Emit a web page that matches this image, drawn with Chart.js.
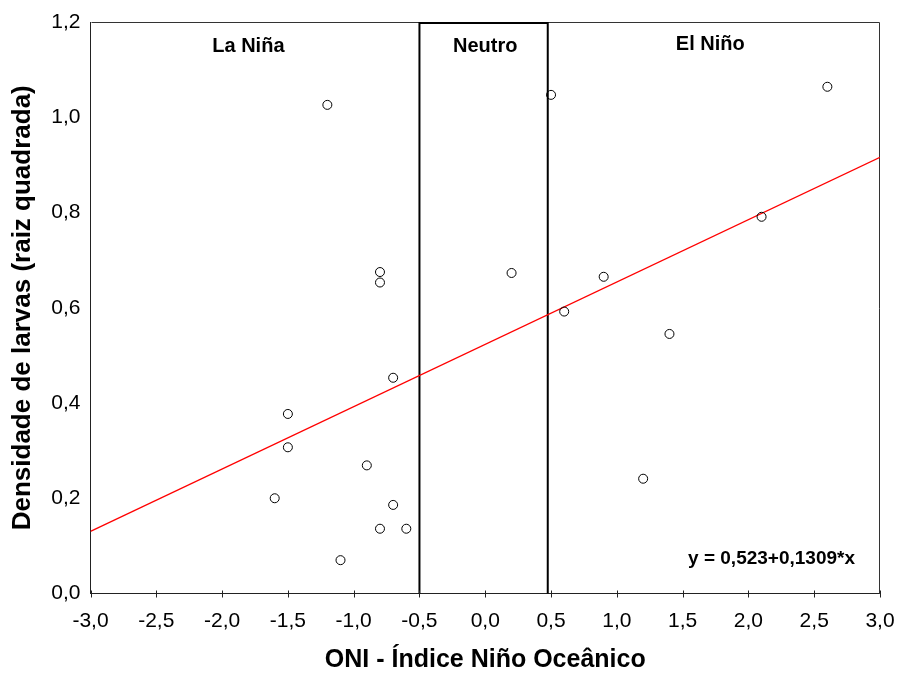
<!DOCTYPE html>
<html>
<head>
<meta charset="utf-8">
<script src="https://cdn.jsdelivr.net/npm/chart.js@4"></script>
<style>
  html, body { margin: 0; padding: 0; background: #fff; }
  #wrap { width: 899px; height: 673px; }
</style>
</head>
<body>
<div id="wrap"><canvas id="c" width="899" height="673"></canvas></div>
<script>
// ---- data ----
const oniValues = [-1.2, -0.8, -0.8, -0.7, -1.5, -1.5, -0.9, -1.6, -0.7, -0.8, -0.6, -1.1,
                   0.2, 0.5, 2.6, 2.1, 0.9, 0.6, 1.4, 1.2];
const larvaDensity = [1.026, 0.675, 0.653, 0.453, 0.377, 0.307, 0.269, 0.200, 0.186, 0.136, 0.136, 0.070,
                      0.673, 1.047, 1.064, 0.791, 0.665, 0.592, 0.545, 0.241];
const regInterceptSlope = [0.523, 0.1309];
const xTickLabels = ['-3,0','-2,5','-2,0','-1,5','-1,0','-0,5','0,0','0,5','1,0','1,5','2,0','2,5','3,0'];
const yTickLabels = ['0,0','0,2','0,4','0,6','0,8','1,0','1,2'];
const regionNames = ['La Niña', 'Neutro', 'El Niño'];
const neutroRange = [-0.5, 0.475];
const equationText = 'y = 0,523+0,1309*x';
const xTitle = 'ONI - Índice Niño Oceânico';
const yTitle = 'Densidade de larvas (raiz quadrada)';

const FONT = "'Liberation Sans', Arial, sans-serif";
const xMin = -3, xMax = 3, yMin = 0, yMax = 1.2;

const points = oniValues.map((x, i) => ({ x: x, y: larvaDensity[i] }));
const regLine = [xMin, xMax].map(x => ({ x: x, y: regInterceptSlope[0] + regInterceptSlope[1] * x }));

const overlay = {
  id: 'overlay',
  beforeDatasetsDraw(chart) {
    const { ctx, chartArea: a, scales: { x, y } } = chart;
    ctx.save();
    // frame (top + right)
    ctx.strokeStyle = '#333';
    ctx.lineWidth = 1;
    ctx.beginPath();
    ctx.moveTo(Math.round(a.left) + 0.5, Math.round(a.top) + 0.5);
    ctx.lineTo(Math.round(a.right) - 0.5, Math.round(a.top) + 0.5);
    ctx.lineTo(Math.round(a.right) - 0.5, Math.round(a.bottom));
    ctx.stroke();
    // Neutro box
    const x0 = x.getPixelForValue(neutroRange[0]);
    const x1 = x.getPixelForValue(neutroRange[1]);
    const yb = y.getPixelForValue(0);
    const yt = y.getPixelForValue(1.198);
    ctx.strokeStyle = '#000';
    ctx.lineWidth = 2;
    ctx.beginPath();
    ctx.moveTo(x0, yb); ctx.lineTo(x0, yt); ctx.lineTo(x1, yt); ctx.lineTo(x1, yb);
    ctx.stroke();
    // x tick marks crossing the axis
    ctx.strokeStyle = '#222';
    ctx.lineWidth = 1;
    x.ticks.forEach(t => {
      const px = Math.round(x.getPixelForValue(t.value)) + 0.5;
      ctx.beginPath();
      ctx.moveTo(px, a.bottom - 3);
      ctx.lineTo(px, a.bottom + 4);
      ctx.stroke();
    });
    ctx.restore();
  },
  afterDatasetsDraw(chart) {
    const { ctx, scales: { x, y } } = chart;
    ctx.save();
    ctx.fillStyle = '#000';
    ctx.font = 'bold 20px ' + FONT;
    ctx.textAlign = 'center';
    ctx.textBaseline = 'middle';
    const regionX = [-1.8, 0.0, 1.71];
    const regionY = [1.149, 1.149, 1.152];
    regionNames.forEach((n, i) => {
      ctx.fillText(n, x.getPixelForValue(regionX[i]), y.getPixelForValue(regionY[i]));
    });
    ctx.font = 'bold 19px ' + FONT;
    ctx.textAlign = 'right';
    ctx.fillText(equationText, x.getPixelForValue(2.81), y.getPixelForValue(0.073));
    ctx.restore();
  }
};

new Chart(document.getElementById('c'), {
  type: 'scatter',
  data: {
    datasets: [
      {
        type: 'line',
        data: regLine,
        borderColor: '#ff0000',
        borderWidth: 1.3,
        pointRadius: 0,
        fill: false,
        order: 2
      },
      {
        data: points,
        pointRadius: 4.5,
        pointBorderWidth: 1,
        pointBorderColor: '#000',
        pointBackgroundColor: 'rgba(255,255,255,0)',
        order: 1
      }
    ]
  },
  options: {
    responsive: false,
    devicePixelRatio: 1,
    animation: false,
    layout: { padding: { left: 0, right: 19, top: 22, bottom: 0 } },
    plugins: { legend: { display: false }, tooltip: { enabled: false } },
    scales: {
      x: {
        type: 'linear',
        min: xMin, max: xMax,
        grid: { display: true, drawOnChartArea: false, drawTicks: false },
        border: { display: true, color: '#222', width: 1 },
        ticks: {
          stepSize: 0.5,
          padding: 15,
          color: '#000',
          font: { family: FONT, size: 21 },
          maxRotation: 0,
          autoSkip: false,
          callback: (v, i) => xTickLabels[i]
        },
        title: {
          display: true, text: xTitle, color: '#000',
          font: { family: FONT, size: 25, weight: 'bold', lineHeight: 1 },
          padding: { top: 0, bottom: 0.5 }
        },
        afterFit: s => { s.height = 79.5; s.paddingLeft = 0; s.paddingRight = 0; }
      },
      y: {
        type: 'linear',
        min: yMin, max: yMax,
        grid: { display: true, drawOnChartArea: false, drawTicks: false, color: 'rgba(0,0,0,0)' },
        border: { display: true, color: '#222', width: 1 },
        ticks: {
          stepSize: 0.2,
          padding: 10,
          color: '#000',
          font: { family: FONT, size: 21 },
          callback: (v, i) => yTickLabels[i]
        },
        title: {
          display: true, text: yTitle, color: '#000',
          font: { family: FONT, size: 26, weight: 'bold', lineHeight: 1 },
          padding: { top: 10, bottom: 0 }
        },
        afterFit: s => { s.width = 90.5; s.paddingTop = 0; s.paddingBottom = 0; }
      }
    }
  },
  plugins: [overlay]
});
</script>
</body>
</html>
